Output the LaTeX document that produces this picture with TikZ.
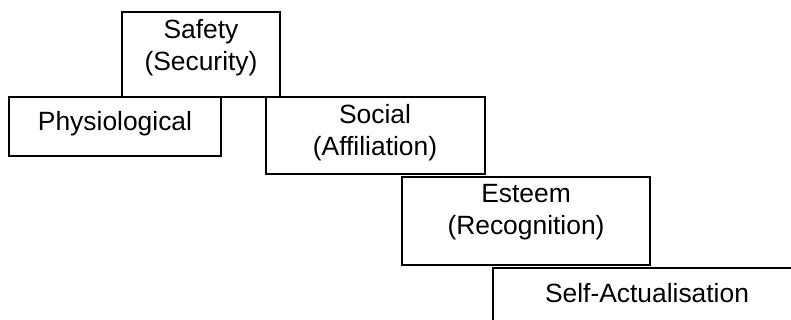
\documentclass[tikz,border=0pt]{standalone}
\usepackage{fontspec}
\setmainfont{Liberation Sans}
\begin{document}
\begin{tikzpicture}[x=0.5pt, y=-0.5pt, line width=1.2pt,
    lbl/.style={anchor=north, inner sep=0pt, align=center, font=\fontsize{13.2}{16}\selectfont}]
    \clip (0,0) rectangle (791,320);
    \node[lbl] (safety) at (201,18) {Safety\\(Security)};
    \node[lbl] (physio) at (115,110) {Physiological};
    \node[lbl] (social) at (375,103) {Social\\(Affiliation)};
    \node[lbl] (esteem) at (526,183) {Esteem\\(Recognition)};
    \node[lbl] (selfact) at (647,282) {Self-Actualisation};
    \draw (122,12) rectangle (280,97);
    \draw (9,97) rectangle (221,156);
    \draw (266,97) rectangle (485,174);
    \draw (402,177) rectangle (650,265);
    \draw (493,268) rectangle (802,330);
\end{tikzpicture}
\end{document}
